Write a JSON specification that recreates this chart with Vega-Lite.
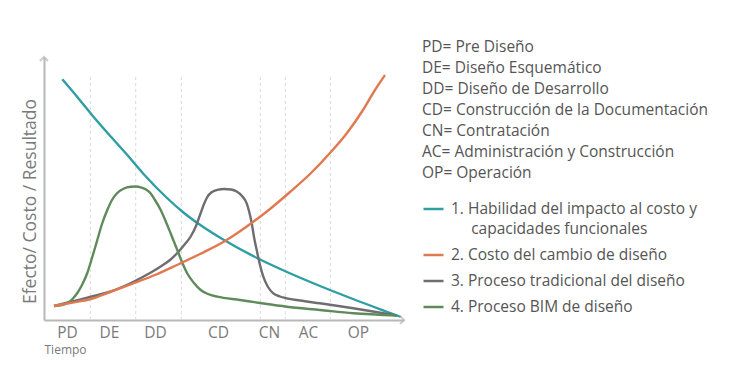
{
  "$schema": "https://vega.github.io/schema/vega-lite/v6.json",
  "width": 360,
  "height": 263,
  "autosize": {"type": "none"},
  "padding": {"left": 44, "top": 57, "right": 333, "bottom": 67},
  "background": "white",
  "config": {
    "view": {"stroke": null},
    "font": "Open Sans",
    "axis": {"grid": false, "ticks": false, "domainColor": "#b8b8b8", "domainWidth": 2}
  },
  "datasets": {
    "curves": [
      {"serie": "1. Habilidad del impacto al costo y capacidades funcionales", "t": 18.3, "v": 240.7},
      {"serie": "1. Habilidad del impacto al costo y capacidades funcionales", "t": 33.3, "v": 223},
      {"serie": "1. Habilidad del impacto al costo y capacidades funcionales", "t": 46.7, "v": 206.5},
      {"serie": "1. Habilidad del impacto al costo y capacidades funcionales", "t": 66.7, "v": 183.5},
      {"serie": "1. Habilidad del impacto al costo y capacidades funcionales", "t": 83.3, "v": 165},
      {"serie": "1. Habilidad del impacto al costo y capacidades funcionales", "t": 100, "v": 145.5},
      {"serie": "1. Habilidad del impacto al costo y capacidades funcionales", "t": 123, "v": 122},
      {"serie": "1. Habilidad del impacto al costo y capacidades funcionales", "t": 140, "v": 107},
      {"serie": "1. Habilidad del impacto al costo y capacidades funcionales", "t": 160, "v": 92.5},
      {"serie": "1. Habilidad del impacto al costo y capacidades funcionales", "t": 180, "v": 80},
      {"serie": "1. Habilidad del impacto al costo y capacidades funcionales", "t": 213, "v": 62},
      {"serie": "1. Habilidad del impacto al costo y capacidades funcionales", "t": 243, "v": 48},
      {"serie": "1. Habilidad del impacto al costo y capacidades funcionales", "t": 276, "v": 34},
      {"serie": "1. Habilidad del impacto al costo y capacidades funcionales", "t": 309, "v": 21},
      {"serie": "1. Habilidad del impacto al costo y capacidades funcionales", "t": 349, "v": 6},
      {"serie": "1. Habilidad del impacto al costo y capacidades funcionales", "t": 357, "v": 3},

      {"serie": "3. Proceso tradicional del diseño", "t": 10, "v": 14},
      {"serie": "3. Proceso tradicional del diseño", "t": 26, "v": 18},
      {"serie": "3. Proceso tradicional del diseño", "t": 46, "v": 23},
      {"serie": "3. Proceso tradicional del diseño", "t": 66.7, "v": 28.5},
      {"serie": "3. Proceso tradicional del diseño", "t": 90, "v": 38.5},
      {"serie": "3. Proceso tradicional del diseño", "t": 106, "v": 47},
      {"serie": "3. Proceso tradicional del diseño", "t": 116.7, "v": 53.5},
      {"serie": "3. Proceso tradicional del diseño", "t": 126, "v": 60},
      {"serie": "3. Proceso tradicional del diseño", "t": 133.3, "v": 67},
      {"serie": "3. Proceso tradicional del diseño", "t": 141, "v": 76},
      {"serie": "3. Proceso tradicional del diseño", "t": 146.7, "v": 83.5},
      {"serie": "3. Proceso tradicional del diseño", "t": 152, "v": 94},
      {"serie": "3. Proceso tradicional del diseño", "t": 156.7, "v": 107},
      {"serie": "3. Proceso tradicional del diseño", "t": 160, "v": 116},
      {"serie": "3. Proceso tradicional del diseño", "t": 163.3, "v": 123},
      {"serie": "3. Proceso tradicional del diseño", "t": 168, "v": 128},
      {"serie": "3. Proceso tradicional del diseño", "t": 173.3, "v": 130.2},
      {"serie": "3. Proceso tradicional del diseño", "t": 180, "v": 131},
      {"serie": "3. Proceso tradicional del diseño", "t": 187, "v": 130.5},
      {"serie": "3. Proceso tradicional del diseño", "t": 192.7, "v": 128.5},
      {"serie": "3. Proceso tradicional del diseño", "t": 198, "v": 124},
      {"serie": "3. Proceso tradicional del diseño", "t": 202.7, "v": 116.7},
      {"serie": "3. Proceso tradicional del diseño", "t": 205, "v": 109},
      {"serie": "3. Proceso tradicional del diseño", "t": 207.7, "v": 97},
      {"serie": "3. Proceso tradicional del diseño", "t": 210, "v": 83},
      {"serie": "3. Proceso tradicional del diseño", "t": 212.7, "v": 70},
      {"serie": "3. Proceso tradicional del diseño", "t": 216, "v": 55},
      {"serie": "3. Proceso tradicional del diseño", "t": 219.3, "v": 43.3},
      {"serie": "3. Proceso tradicional del diseño", "t": 224, "v": 33},
      {"serie": "3. Proceso tradicional del diseño", "t": 229.3, "v": 26.7},
      {"serie": "3. Proceso tradicional del diseño", "t": 236, "v": 23.5},
      {"serie": "3. Proceso tradicional del diseño", "t": 242.7, "v": 21.7},
      {"serie": "3. Proceso tradicional del diseño", "t": 256, "v": 19.5},
      {"serie": "3. Proceso tradicional del diseño", "t": 276, "v": 16.7},
      {"serie": "3. Proceso tradicional del diseño", "t": 309.3, "v": 11.7},
      {"serie": "3. Proceso tradicional del diseño", "t": 353, "v": 4.5},

      {"serie": "4. Proceso BIM de diseño", "t": 10, "v": 14},
      {"serie": "4. Proceso BIM de diseño", "t": 18, "v": 15},
      {"serie": "4. Proceso BIM de diseño", "t": 23.3, "v": 17},
      {"serie": "4. Proceso BIM de diseño", "t": 28, "v": 20.5},
      {"serie": "4. Proceso BIM de diseño", "t": 33.3, "v": 27},
      {"serie": "4. Proceso BIM de diseño", "t": 38, "v": 35},
      {"serie": "4. Proceso BIM de diseño", "t": 43.3, "v": 47},
      {"serie": "4. Proceso BIM de diseño", "t": 48, "v": 62},
      {"serie": "4. Proceso BIM de diseño", "t": 53.3, "v": 80},
      {"serie": "4. Proceso BIM de diseño", "t": 58, "v": 96},
      {"serie": "4. Proceso BIM de diseño", "t": 63.3, "v": 110},
      {"serie": "4. Proceso BIM de diseño", "t": 68, "v": 120},
      {"serie": "4. Proceso BIM de diseño", "t": 73.3, "v": 127},
      {"serie": "4. Proceso BIM de diseño", "t": 80, "v": 131.5},
      {"serie": "4. Proceso BIM de diseño", "t": 86.7, "v": 133.2},
      {"serie": "4. Proceso BIM de diseño", "t": 92, "v": 133.5},
      {"serie": "4. Proceso BIM de diseño", "t": 96.7, "v": 132.7},
      {"serie": "4. Proceso BIM de diseño", "t": 102, "v": 130.5},
      {"serie": "4. Proceso BIM de diseño", "t": 106.7, "v": 126.5},
      {"serie": "4. Proceso BIM de diseño", "t": 111, "v": 120},
      {"serie": "4. Proceso BIM de diseño", "t": 116.7, "v": 110},
      {"serie": "4. Proceso BIM de diseño", "t": 122, "v": 98},
      {"serie": "4. Proceso BIM de diseño", "t": 126.7, "v": 86.5},
      {"serie": "4. Proceso BIM de diseño", "t": 133.3, "v": 70},
      {"serie": "4. Proceso BIM de diseño", "t": 138, "v": 58},
      {"serie": "4. Proceso BIM de diseño", "t": 143.3, "v": 46.5},
      {"serie": "4. Proceso BIM de diseño", "t": 150, "v": 37},
      {"serie": "4. Proceso BIM de diseño", "t": 156.7, "v": 30},
      {"serie": "4. Proceso BIM de diseño", "t": 164, "v": 26},
      {"serie": "4. Proceso BIM de diseño", "t": 173.3, "v": 23.3},
      {"serie": "4. Proceso BIM de diseño", "t": 196, "v": 20},
      {"serie": "4. Proceso BIM de diseño", "t": 216, "v": 17},
      {"serie": "4. Proceso BIM de diseño", "t": 242.7, "v": 13.3},
      {"serie": "4. Proceso BIM de diseño", "t": 276, "v": 10},
      {"serie": "4. Proceso BIM de diseño", "t": 309.3, "v": 6.7},
      {"serie": "4. Proceso BIM de diseño", "t": 353, "v": 4.5},

      {"serie": "2. Costo del cambio de diseño", "t": 10, "v": 14},
      {"serie": "2. Costo del cambio de diseño", "t": 26, "v": 17},
      {"serie": "2. Costo del cambio de diseño", "t": 46.7, "v": 21},
      {"serie": "2. Costo del cambio de diseño", "t": 66, "v": 28},
      {"serie": "2. Costo del cambio de diseño", "t": 90, "v": 37},
      {"serie": "2. Costo del cambio de diseño", "t": 111, "v": 45},
      {"serie": "2. Costo del cambio de diseño", "t": 133, "v": 55},
      {"serie": "2. Costo del cambio de diseño", "t": 156, "v": 66},
      {"serie": "2. Costo del cambio de diseño", "t": 181, "v": 79},
      {"serie": "2. Costo del cambio de diseño", "t": 209, "v": 98},
      {"serie": "2. Costo del cambio de diseño", "t": 226, "v": 111},
      {"serie": "2. Costo del cambio de diseño", "t": 246, "v": 128},
      {"serie": "2. Costo del cambio de diseño", "t": 266, "v": 146},
      {"serie": "2. Costo del cambio de diseño", "t": 286, "v": 167},
      {"serie": "2. Costo del cambio de diseño", "t": 303, "v": 187},
      {"serie": "2. Costo del cambio de diseño", "t": 319, "v": 210},
      {"serie": "2. Costo del cambio de diseño", "t": 331, "v": 230},
      {"serie": "2. Costo del cambio de diseño", "t": 341, "v": 245}
    ],
    "limites": [
      {"limite": 46.3}, {"limite": 91.7}, {"limite": 137.3},
      {"limite": 216.3}, {"limite": 241.3}, {"limite": 286.3}
    ]
  },
  "layer": [
    {
      "data": {"name": "limites"},
      "mark": {"type": "rule", "color": "#d9d9d9", "strokeWidth": 1, "strokeDash": [3, 3]},
      "encoding": {
        "x": {"field": "limite", "type": "quantitative"},
        "y": {"datum": 0, "type": "quantitative"},
        "y2": {"datum": 246}
      }
    },
    {
      "data": {"name": "curves"},
      "mark": {"type": "line", "strokeWidth": 2.4, "interpolate": "monotone"},
      "encoding": {
        "x": {
          "field": "t", "type": "quantitative",
          "scale": {"domain": [0, 360], "nice": false, "zero": false},
          "axis": {
            "values": [23, 65, 111, 174, 225, 264, 314],
            "labelExpr": "{'23':'PD','65':'DE','111':'DD','174':'CD','225':'CN','264':'AC','314':'OP'}[datum.value]",
            "labelFontSize": 15.5, "labelColor": "#7a7a7a", "labelPadding": 5,
            "title": "Tiempo", "titleFontSize": 12, "titleFontWeight": "normal", "titleColor": "#7a7a7a",
            "titleAnchor": "start", "titleAlign": "left", "titleX": 0, "titleY": 24, "titleBaseline": "top"
          }
        },
        "y": {
          "field": "v", "type": "quantitative",
          "scale": {"domain": [0, 263], "nice": false, "zero": false},
          "axis": {
            "labels": false,
            "title": "Efecto/ Costo / Resultado", "titleFontSize": 17.5, "titleFontWeight": "normal", "titleColor": "#7a7a7a",
            "titleX": -14, "titleY": 144, "titleBaseline": "middle", "titleAngle": -90
          }
        },
        "color": {
          "field": "serie", "type": "nominal",
          "scale": {
            "domain": ["1. Habilidad del impacto al costo y capacidades funcionales", "2. Costo del cambio de diseño", "3. Proceso tradicional del diseño", "4. Proceso BIM de diseño"],
            "range": ["#2e9ea3", "#e0794f", "#6e6e72", "#5f8b5c"]
          },
          "legend": {
            "orient": "none", "legendX": 378, "legendY": -17, "padding": 0,
            "title": ["PD= Pre Diseño", "DE= Diseño Esquemático", "DD= Diseño de Desarrollo", "CD= Construcción de la Documentación", "CN= Contratación", "AC= Administración y Construcción", "OP= Operación"],
            "titleFontSize": 15.5, "titleFontWeight": "normal", "titleColor": "#555555", "titleLineHeight": 21, "titlePadding": 16, "titleLimit": 400,
            "labelExpr": "datum.label == '1. Habilidad del impacto al costo y capacidades funcionales' ? ['1.  Habilidad del impacto al costo y', '\u200b\u00a0\u00a0\u00a0\u00a0\u00a0capacidades funcionales'] : datum.label",
            "labelFontSize": 15.5, "labelColor": "#555555", "labelLimit": 400, "labelOffset": 6,
            "symbolType": "stroke", "symbolSize": 400, "symbolStrokeWidth": 2.5, "rowPadding": 6,
            "encoding": {"labels": {"lineHeight": {"value": 20}}}
          }
        }
      }
    },
    {
      "data": {"values": [{}]},
      "mark": {"type": "point", "shape": "M-1,-1L0,0L-1,1", "filled": false, "color": "#b8b8b8", "strokeWidth": 2, "size": 64},
      "encoding": {"x": {"datum": 360, "type": "quantitative"}, "y": {"datum": 0, "type": "quantitative"}}
    },
    {
      "data": {"values": [{}]},
      "mark": {"type": "point", "shape": "M-1,1L0,0L1,1", "filled": false, "color": "#b8b8b8", "strokeWidth": 2, "size": 64},
      "encoding": {"x": {"datum": 0, "type": "quantitative"}, "y": {"datum": 263, "type": "quantitative"}}
    }
  ]
}
